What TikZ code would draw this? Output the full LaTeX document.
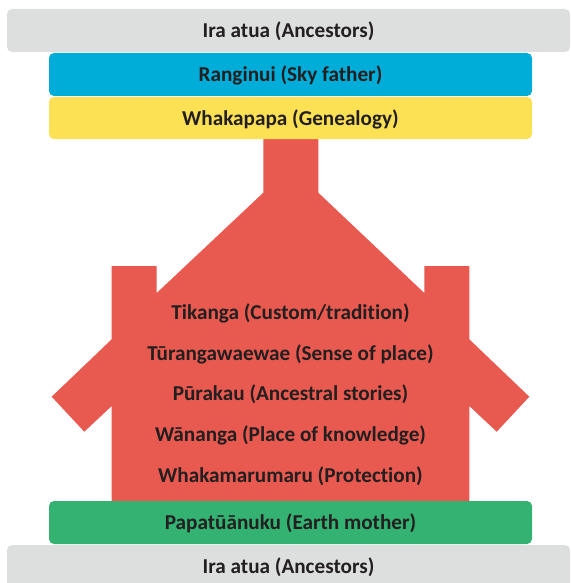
\documentclass[tikz,border=0pt]{standalone}
\usepackage{fontspec}
\setmainfont{Carlito}[Ligatures=NoCommon]
\definecolor{ancgrey}{HTML}{DCDFDE}
\definecolor{skyblue}{HTML}{00ADD8}
\definecolor{genyellow}{HTML}{FDE155}
\definecolor{housered}{HTML}{E8594F}
\definecolor{earthgreen}{HTML}{33B272}
\definecolor{txt}{HTML}{231F20}
\tikzset{
  labelfont/.style={text=txt, font=\fontsize{21.2}{24}\selectfont\bfseries},
  band/.style={rounded corners=5pt, inner sep=0pt, labelfont,
    text height=14pt, text depth=0pt},
  houselabel/.style={inner sep=0pt, labelfont, anchor=base}
}
\begin{document}
\begin{tikzpicture}[x=1pt,y=-1pt]
\useasboundingbox (0,0) rectangle (570,583);
% house
\fill[housered] (263.3,139) -- (318.3,139) -- (318.3,192.7) -- (424.3,293)
  -- (424.3,266) -- (469.3,266) -- (469.3,339.3) -- (529.3,396.7)
  -- (496.7,431.7) -- (469.3,406) -- (469.3,502) -- (111.7,502)
  -- (111.7,406) -- (84.3,431.7) -- (51.7,396.7) -- (111.7,339.3)
  -- (111.7,266) -- (156.7,266) -- (156.7,293) -- (263.3,192.7) -- cycle;
% bands
\node[band, fill=ancgrey, minimum width=563pt, minimum height=43pt] (anctop) at (288.5,30.5) {Ira atua (Ancestors)};
\node[band, fill=skyblue, minimum width=483pt, minimum height=43pt] (rangi) at (290.5,74.5) {Ranginui (Sky father)};
\node[band, fill=genyellow, minimum width=483pt, minimum height=42pt] (whaka) at (290.5,118) {Whakapapa (Genealogy)};
\node[band, fill=earthgreen, minimum width=483pt, minimum height=43pt] (papa) at (290.5,522.5) {Papatūānuku (Earth mother)};
\node[band, fill=ancgrey, minimum width=563pt, minimum height=43pt] (ancbot) at (288.5,566.5) {Ira atua (Ancestors)};
% house labels
\node[houselabel] (t1) at (290.5,319.3) {Tikanga (Custom/tradition)};
\node[houselabel] (t2) at (290.5,360.1) {Tūrangawaewae (Sense of place)};
\node[houselabel] (t3) at (290.5,400.9) {Pūrakau (Ancestral stories)};
\node[houselabel] (t4) at (290.5,441.7) {Wānanga (Place of knowledge)};
\node[houselabel] (t5) at (290.5,482.5) {Whakamarumaru (Protection)};
\end{tikzpicture}
\end{document}
